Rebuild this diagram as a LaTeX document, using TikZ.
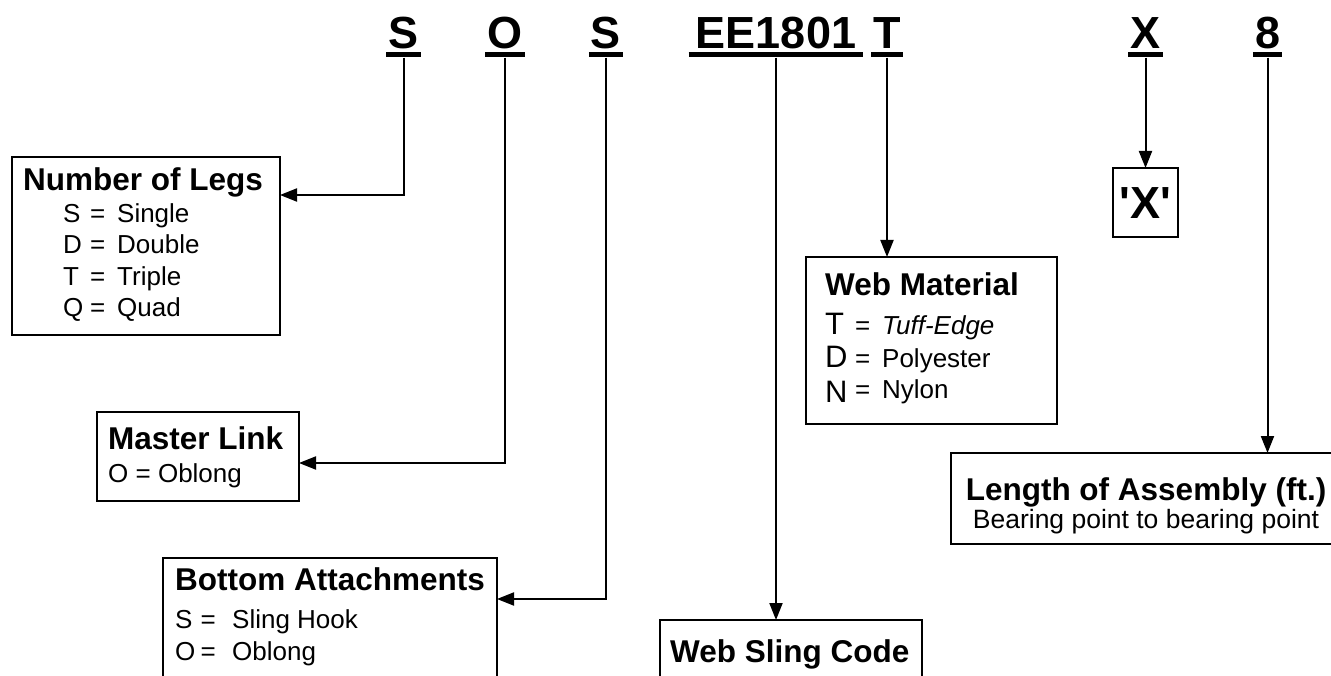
\documentclass[tikz,border=0pt]{standalone}
\usepackage{fontspec}
\setmainfont{Liberation Sans}[Ligatures=TeXOff]
\usetikzlibrary{positioning, arrows.meta}
\tikzset{code/.style={font=\bfseries\fontsize{45}{45}\selectfont, anchor=base, inner xsep=2pt, inner ysep=8.5pt, text depth=0pt},
         box/.style={draw, line width=2pt, anchor=north west, inner sep=0pt, outer sep=0pt},
         head/.style={font=\bfseries\fontsize{31.5}{36}\selectfont, anchor=base west, inner sep=0pt},
         entry/.style={font=\fontsize{26}{30}\selectfont, anchor=base west, inner sep=0pt},
         pointer/.style={line width=2pt, -{Triangle[length=17pt, width=13pt]}},}
\newcommand{\undl}[1]{\draw[line width=5pt] ([yshift=3pt]#1.south west) -- ([yshift=3pt]#1.south east);}
\newcommand{\tobox}[3]{\draw[pointer] (#1.south) |- ([yshift=-#3pt]#2.north east);}
\newcommand{\down}[2]{\draw[pointer] (#1.south) -- (#1.south |- #2.north);}
\newcommand{\matl}[1]{\fontsize{31}{31}\selectfont #1}

\begin{document}
\begin{tikzpicture}[x=1pt, y=-1pt]
        \clip (0,0) rectangle (1331,676);
        \node[code] (s1) at (403.5,49) {S};
        \node[code] (o1) at (505,49) {O};
        \node[code] (s2) at (606,49) {S};
        \node[code, inner xsep=7pt] (ee) at (776,49) {EE1801};
        \node[code] (t1) at (887,49) {T};
        \node[code] (x1) at (1145.5,49) {X};
        \node[code] (n8) at (1267.5,49) {8};
        \foreach \c in {s1,o1,s2,ee,t1,x1,n8} {\undl{\c}}

        \node[box, minimum width=268pt, minimum height=178pt] (legs) at (12,157) {};
        \node[head] (legs head) at (23,191) {Number of Legs};
        \foreach \l/\w [count=\i] in {S/Single, D/Double, T/Triple, Q/Quad}
            \node[entry] (legs\i) at (63,191+31.5*\i) {\makebox[27pt][l]{\l}\makebox[27pt][l]{=}\w};

        \node[box, minimum width=202pt, minimum height=89pt] (master) at (97,412) {};
        \node[head] (master head) at (108,449) {Master Link};
        \node[entry] (master1) at (108,482) {O = Oblong};

        \node[box, minimum width=334pt, minimum height=140pt] (attach) at (163,558) {};
        \node[head] (attach head) at (175,590) {Bottom Attachments};
        \node[entry] (attach1) at (175,628) {\makebox[21pt][l]{S}\makebox[36pt][l]{\,=}Sling Hook};
        \node[entry] (attach2) at (175,660) {\makebox[21pt][l]{O}\makebox[36pt][l]{\,=}Oblong};

        \node[box, minimum width=262pt, minimum height=100pt] (sling) at (660,620) {};
        \node[head] (sling head) at (670,662) {Web Sling Code};

        \node[box, minimum width=251pt, minimum height=167pt] (mat) at (806,257) {};
        \node[head] (mat head) at (825,296) {Web Material};
        \node[entry] (mat1) at (825,335) {\makebox[30pt][l]{\matl{T}}\makebox[27pt][l]{=}\textit{Tuff-Edge}};
        \node[entry] (mat2) at (825,367) {\makebox[30pt][l]{\matl{D}}\makebox[27pt][l]{=}Polyester};
        \node[entry] (mat3) at (825,399) {\makebox[30pt][l]{\raisebox{-4pt}{\matl{N}}}\makebox[27pt][l]{=}Nylon};

        \node[box, minimum width=65pt, minimum height=69pt] (xbox) at (1113,168) {};
        \node[code, inner sep=0pt] (xtext) at (1145.5,219) {'X'};

        \node[box, minimum width=420pt, minimum height=91pt] (len) at (951,453) {};
        \node[head, anchor=base] (len head) at (1146,500) {Length of Assembly (ft.)};
        \node[entry, anchor=base, font=\fontsize{26.5}{30}\selectfont] (len1) at (1146,528) {Bearing point to bearing point};

        \tobox{s1}{legs}{38}
        \tobox{o1}{master}{51}
        \tobox{s2}{attach}{41}
        \down{ee}{sling}
        \down{t1}{mat}
        \down{x1}{xbox}
        \down{n8}{len}
    \end{tikzpicture}
\end{document}
